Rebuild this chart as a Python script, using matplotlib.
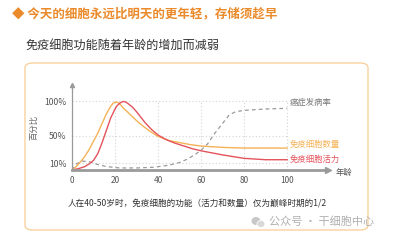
import matplotlib.pyplot as plt
from matplotlib.patches import FancyBboxPatch, Ellipse

plt.rcParams['font.family'] = ['Noto Sans CJK SC', 'DejaVu Sans']

# data (percent, schematic)
age_count = [0, 2, 4, 6, 8, 10, 12, 14, 16, 18, 19, 20, 21, 22, 24, 26, 28, 30, 33, 36,
             40, 45, 50, 55, 60, 70, 80, 90, 100]
count_vals = [0, 5, 12, 20, 30, 42, 54, 68, 82, 93, 97, 99, 99, 97, 90, 84, 78, 72, 64, 57,
              49, 43, 40, 37, 35, 33, 32, 32, 32]

age_vit = [0, 3, 6, 8, 10, 12, 14, 16, 18, 20, 21, 22, 23, 24, 25, 26, 28, 30, 32, 34,
           37, 40, 44, 48, 52, 56, 60, 70, 80, 90, 100]
vit_vals = [0, 2, 5, 9, 14, 24, 40, 58, 76, 89, 94, 97, 99, 100, 99, 97, 92, 85, 77, 69,
            59, 51, 44, 39, 35, 31, 28, 22, 17, 15, 15]

age_cancer = [0, 2, 5, 8, 12, 16, 22, 30, 38, 45, 50, 53, 57, 60, 63, 66, 70, 73, 76, 80, 90, 100]
cancer_vals = [0, 9, 13, 12, 8, 5, 3, 3, 4, 7, 11, 15, 22, 29, 38, 52, 68, 80, 85, 87, 89, 90]

xticks = [0, 20, 40, 60, 80, 100]
yticks = [10, 50, 100]
ylabels = ['10%', '50%', '100%']

orange = '#f5b256'
red = '#e4535c'
gray = '#9a9a9a'

fig = plt.figure(figsize=(3.93, 2.4), dpi=100)

# card frame
card = FancyBboxPatch((25 / 393, 1 - 230 / 240), 343 / 393, 167 / 240,
                      boxstyle='round,pad=0,rounding_size=0.02',
                      transform=fig.transFigure, fc='white', ec='#f8d29c', lw=1.0, zorder=0)
fig.patches.append(card)

fig.text(12 / 393, 1 - 14 / 240, '◆ 今天的细胞永远比明天的更年轻，存储须趁早',
         color='#ea8a2a', fontsize=9, fontweight='bold', va='center', ha='left')
fig.text(25 / 393, 1 - 45 / 240, '免疫细胞功能随着年龄的增加而减弱',
         color='#333333', fontsize=8.7, va='center', ha='left')

ax = fig.add_axes([72 / 393, 1 - 170 / 240, 256 / 393, 85 / 240], zorder=2)
ax.patch.set_alpha(0)
ax.set_xlim(0, 119)
ax.set_ylim(0, 124)
for s in ['top', 'right']:
    ax.spines[s].set_visible(False)
ax.spines['left'].set_color('#9a9a9a')
ax.spines['left'].set_linewidth(0.9)
ax.spines['bottom'].set_color('#9a9a9a')
ax.spines['bottom'].set_linewidth(2.0)
ax.plot(1, 0, '>', transform=ax.transAxes, color='#9a9a9a', ms=4, clip_on=False)
ax.plot(0, 1, '^', transform=ax.transAxes, color='#9a9a9a', ms=3, clip_on=False)

# dotted grid
for y in yticks:
    ax.plot([0, 100], [y, y], ls=(0, (1, 2)), color='#d4d4d4', lw=0.8, zorder=0)
for x in xticks[1:]:
    ax.plot([x, x], [0, 100], ls=(0, (1, 2)), color='#d4d4d4', lw=0.8, zorder=0)

ax.plot(age_cancer, cancer_vals, color=gray, lw=0.9, ls=(0, (3, 2.5)))
ax.plot(age_count, count_vals, color=orange, lw=1.0)
ax.plot(age_vit, vit_vals, color=red, lw=1.0)

ax.set_xticks(xticks)
ax.set_xticklabels([str(v) for v in xticks], fontsize=6, color='#555555')
ax.set_yticks(yticks)
ax.set_yticklabels(ylabels, fontsize=6.2, color='#555555')
ax.tick_params(length=0, pad=4)

ax.set_ylabel('百分比', fontsize=6, color='#666666', labelpad=4)

fig.text(336 / 393, 1 - 172 / 240, '年龄', fontsize=6, color='#555555', va='center', ha='left')

ax.text(101, 98, '癌症发病率', fontsize=6, color='#777777', va='center', ha='left')
ax.text(101, 38, '免疫细胞数量', fontsize=6, color=orange, va='center', ha='left')
ax.text(101, 16, '免疫细胞活力', fontsize=6, color=red, va='center', ha='left')

fig.text(68 / 393, 1 - 203 / 240, '人在40-50岁时，免疫细胞的功能（活力和数量）仅为巅峰时期的1/2',
         fontsize=6.2, color='#333333', fontweight='medium', va='center', ha='left')

# watermark
fig.patches.append(Ellipse((256 / 393, 1 - 221 / 240), 9 / 393, 8 / 240,
                           transform=fig.transFigure, fc='#c8c8c8', ec='none'))
fig.patches.append(Ellipse((261 / 393, 1 - 224 / 240), 8 / 393, 7 / 240,
                           transform=fig.transFigure, fc='#d8d8d8', ec='white', lw=0.6))
fig.text(269 / 393, 1 - 222 / 240, '公众号 · 干细胞中心', fontsize=8, color='#b0b0b0',
         va='center', ha='left')

fig.savefig('out.png', dpi=100)
